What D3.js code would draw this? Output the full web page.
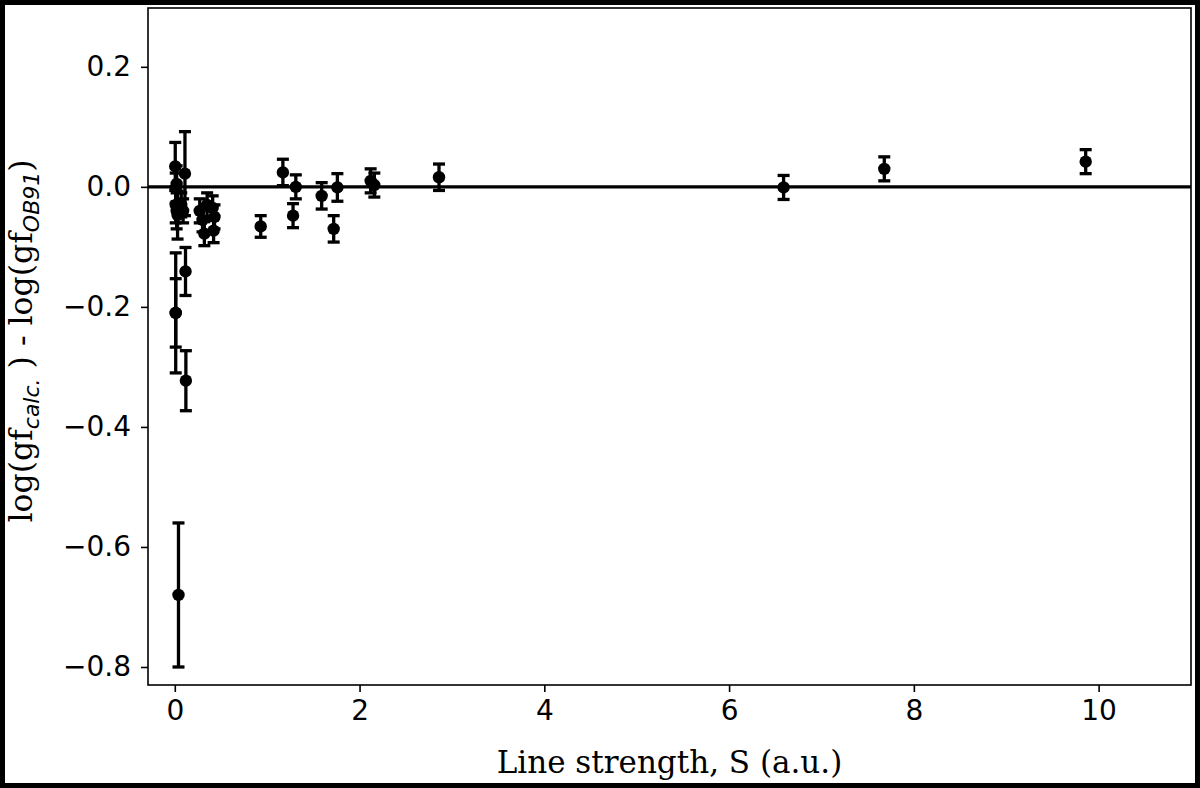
<!DOCTYPE html>
<html>
<head>
<meta charset="utf-8">
<script src="https://cdn.jsdelivr.net/npm/d3@7"></script>
<style>
  html, body { margin: 0; padding: 0; background: #fff; }
  svg { display: block; }
</style>
</head>
<body>
<div id="chart"></div>
<script>
// line strength S (a.u.)
const strength = [
  0.005, 0.11, 0.01, 0.02, 0.01, 0.02, 0.03, 0.07, 0.09,
  0.27, 0.30, 0.32, 0.35, 0.41, 0.43, 0.42,
  0.01, 0.01, 0.116, 0.12, 0.04,
  0.93, 1.17, 1.28, 1.31, 1.59, 1.72, 1.76, 2.12, 2.16, 2.86,
  6.59, 7.68, 9.86
];
// log(gf calc.) - log(gf OB91)
const deltaLogGf = [
  0.034, 0.022, -0.002, 0.005, -0.03, -0.04, -0.047, -0.03, -0.04,
  -0.04, -0.055, -0.078, -0.03, -0.035, -0.05, -0.073,
  -0.21, -0.21, -0.141, -0.323, -0.68,
  -0.066, 0.024, -0.048, 0.0, -0.015, -0.07, -0.001, 0.01, 0.003, 0.016,
  -0.001, 0.03, 0.042
];
const uncertainty = [
  0.04, 0.07, 0.025, 0.03, 0.03, 0.03, 0.04, 0.02, 0.02,
  0.02, 0.02, 0.02, 0.02, 0.02, 0.02, 0.02,
  0.1, 0.057, 0.04, 0.05, 0.12,
  0.018, 0.022, 0.02, 0.02, 0.022, 0.022, 0.023, 0.02, 0.02, 0.022,
  0.02, 0.02, 0.02
];
const xTicks = [0, 2, 4, 6, 8, 10];
const yTicks = [-0.8, -0.6, -0.4, -0.2, 0.0, 0.2];

const W = 1200, H = 788;
const c = { left: 148, top: 8, right: 1191, bottom: 685 };

const svg = d3.select("#chart").append("svg")
  .attr("width", W).attr("height", H);

svg.append("rect")
  .attr("x", 2.5).attr("y", 2.5).attr("width", W - 5).attr("height", H - 5)
  .attr("fill", "#fff").attr("stroke", "#000").attr("stroke-width", 5);

const x = d3.scaleLinear().domain([-0.29, 11.0]).range([c.left, c.right]);
const y = d3.scaleLinear().domain([-0.83, 0.298]).range([c.bottom, c.top]);

const tickFont = "'DejaVu Sans', sans-serif";

const xAxis = svg.append("g")
  .attr("transform", `translate(0,${c.bottom})`)
  .call(d3.axisBottom(x).tickValues(xTicks).tickSize(7).tickPadding(8).tickFormat(d3.format("d")));
xAxis.select(".domain").remove();
xAxis.selectAll("line").attr("stroke", "#000").attr("stroke-width", 1.6);
xAxis.selectAll("text").attr("font-family", tickFont).attr("font-size", 28).attr("fill", "#000");

const yAxis = svg.append("g")
  .attr("transform", `translate(${c.left},0)`)
  .call(d3.axisLeft(y).tickValues(yTicks).tickSize(7).tickPadding(10)
    .tickFormat(d => d3.format(".1f")(d).replace("-", "\u2212")));
yAxis.select(".domain").remove();
yAxis.selectAll("line").attr("stroke", "#000").attr("stroke-width", 1.6);
yAxis.selectAll("text").attr("font-family", tickFont).attr("font-size", 28).attr("fill", "#000");

// zero reference line
svg.append("line")
  .attr("x1", c.left).attr("x2", c.right)
  .attr("y1", y(0)).attr("y2", y(0))
  .attr("stroke", "#000").attr("stroke-width", 3.4);

const pts = strength.map((s, i) => ({ s, d: deltaLogGf[i], e: uncertainty[i] }));

const eb = svg.append("g").attr("stroke", "#000").attr("stroke-width", 3.3);
eb.selectAll(".bar").data(pts).enter().append("line")
  .attr("x1", d => x(d.s)).attr("x2", d => x(d.s))
  .attr("y1", d => y(d.d - d.e)).attr("y2", d => y(d.d + d.e));
eb.selectAll(".capHi").data(pts).enter().append("line")
  .attr("x1", d => x(d.s) - 6).attr("x2", d => x(d.s) + 6)
  .attr("y1", d => y(d.d + d.e)).attr("y2", d => y(d.d + d.e));
eb.selectAll(".capLo").data(pts).enter().append("line")
  .attr("x1", d => x(d.s) - 6).attr("x2", d => x(d.s) + 6)
  .attr("y1", d => y(d.d - d.e)).attr("y2", d => y(d.d - d.e));

svg.append("g").selectAll("circle").data(pts).enter().append("circle")
  .attr("cx", d => x(d.s)).attr("cy", d => y(d.d)).attr("r", 6.2)
  .attr("fill", "#000");

// frame
svg.append("rect")
  .attr("x", c.left).attr("y", c.top)
  .attr("width", c.right - c.left).attr("height", c.bottom - c.top)
  .attr("fill", "none").attr("stroke", "#000").attr("stroke-width", 1.6);

const serif = "'DejaVu Serif', serif";
svg.append("text")
  .attr("x", (c.left + c.right) / 2).attr("y", 773)
  .attr("text-anchor", "middle")
  .attr("font-family", serif).attr("font-size", 31)
  .text("Line strength, S (a.u.)");

const yl = svg.append("text")
  .attr("transform", "translate(32,341) rotate(-90)")
  .attr("text-anchor", "middle")
  .attr("font-family", serif).attr("font-size", 31.5);
yl.append("tspan").text("log(gf");
yl.append("tspan").attr("font-family", tickFont).attr("font-style", "italic")
  .attr("font-size", 22).attr("dy", 7).text("calc.");
yl.append("tspan").attr("dy", -7).text(" ) - log(gf");
yl.append("tspan").attr("font-family", tickFont).attr("font-style", "italic")
  .attr("font-size", 22).attr("dy", 7).text("OB91");
yl.append("tspan").attr("dy", -7).text(")");
</script>
</body>
</html>
